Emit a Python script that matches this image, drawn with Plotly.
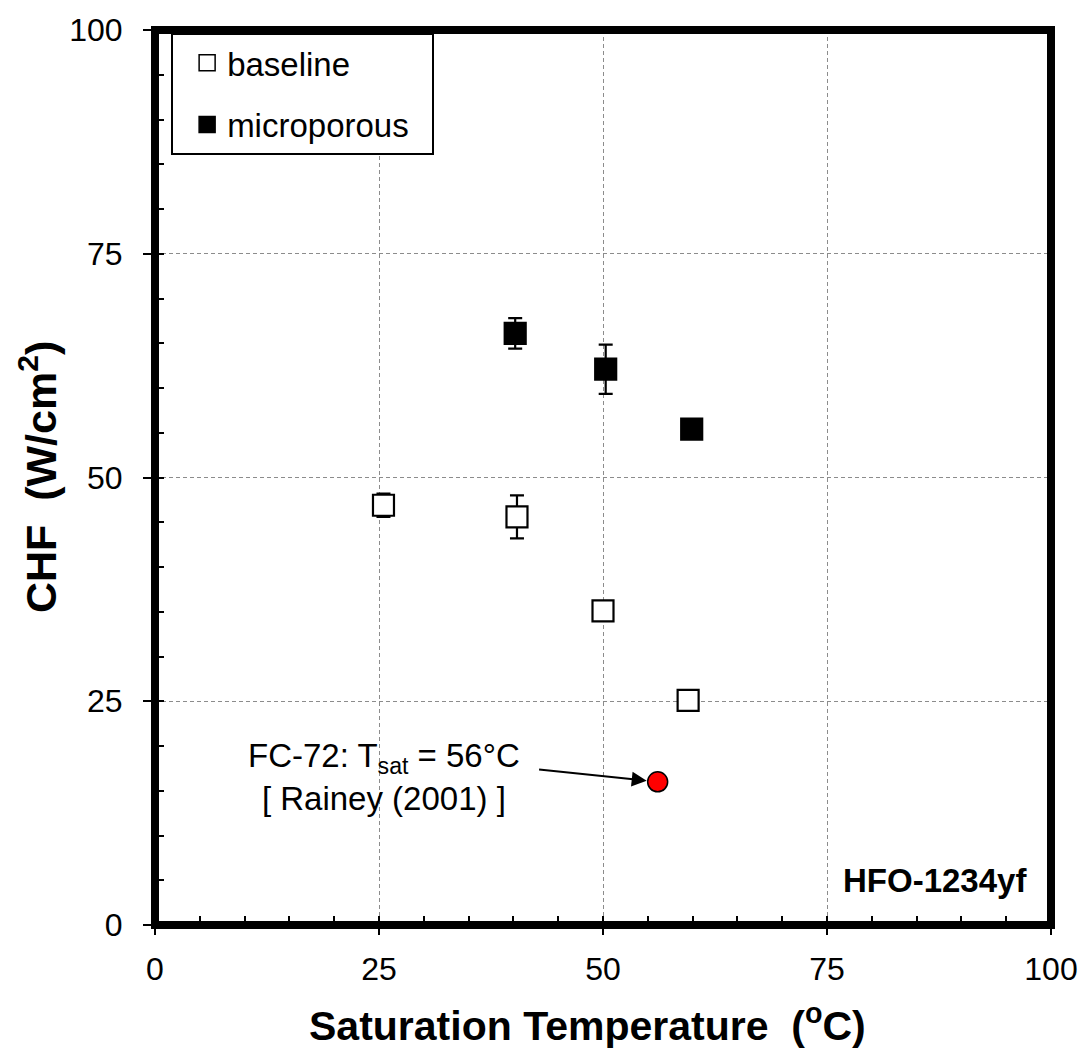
import plotly.graph_objects as go

# ---- data ----
baseline_T = [25.5, 40.4, 50.0, 59.5]
baseline_chf = [46.9, 45.6, 35.1, 25.1]
baseline_err = [1.3, 2.4, 0.0, 0.0]

micro_T = [40.2, 50.3, 59.9]
micro_chf = [66.1, 62.1, 55.4]
micro_err = [1.7, 2.75, 0.0]

fc72_T = [56.1]
fc72_chf = [16.0]

x_ticks = [0, 25, 50, 75, 100]
y_ticks = [0, 25, 50, 75, 100]

FONT = "Liberation Sans, Arial, sans-serif"

fig = go.Figure()

fig.add_trace(go.Scatter(
    x=baseline_T, y=baseline_chf, mode="markers", name="baseline",
    showlegend=False,
    marker=dict(symbol="square", size=21, color="white",
                line=dict(color="black", width=2.2)),
    error_y=dict(type="data", array=baseline_err, color="black", thickness=2.2, width=7),
))
fig.add_trace(go.Scatter(
    x=micro_T, y=micro_chf, mode="markers", name="microporous",
    showlegend=False,
    marker=dict(symbol="square", size=21, color="black",
                line=dict(color="black", width=2.2)),
    error_y=dict(type="data", array=micro_err, color="black", thickness=2.2, width=7),
))
fig.add_trace(go.Scatter(
    x=fc72_T, y=fc72_chf, mode="markers", name="FC-72",
    showlegend=False,
    marker=dict(symbol="circle", size=20, color="#ff0000",
                line=dict(color="black", width=1.5)),
))

# legend-only entries
fig.add_trace(go.Scatter(
    x=[None], y=[None], mode="markers", name="baseline", legendgroup="a",
    marker=dict(symbol="square", size=16, color="white", line=dict(color="black", width=1.5)),
))
fig.add_trace(go.Scatter(
    x=[None], y=[None], mode="markers", name="microporous\u00a0\u00a0", legendgroup="b",
    marker=dict(symbol="square", size=16, color="black", line=dict(color="black", width=1.5)),
))

grid = dict(showgrid=True, gridcolor="#8c8c8c", gridwidth=1.3, griddash="4px,3px")

fig.update_xaxes(
    range=[0, 100], tickvals=x_ticks, ticktext=[str(v) for v in x_ticks],
    ticks="outside", ticklen=9, tickwidth=1.5, tickcolor="black",
    ticklabelstandoff=7,
    tickfont=dict(family=FONT, size=32, color="black"),
    showline=False, zeroline=False,
    minor=dict(dtick=5, ticks="inside", ticklen=9, tickwidth=1.5, tickcolor="black", showgrid=False),
    **grid,
)
fig.update_yaxes(
    range=[0, 100], tickvals=y_ticks, ticktext=[str(v) for v in y_ticks],
    ticks="outside", ticklen=11, tickwidth=1.5, tickcolor="black",
    ticklabelstandoff=14,
    tickfont=dict(family=FONT, size=32, color="black"),
    showline=False, zeroline=False,
    minor=dict(dtick=5, ticks="inside", ticklen=9, tickwidth=1.5, tickcolor="black", showgrid=False),
    **grid,
)

# plot frame
fig.add_shape(type="rect", xref="paper", yref="paper", x0=0, y0=0, x1=1, y1=1,
              line=dict(color="black", width=8), layer="above")

# axis titles
fig.add_annotation(text="<b>Saturation Temperature  (<sup>o</sup>C)</b>",
                   xref="paper", yref="paper", x=0.483, y=-0.11,
                   xanchor="center", yanchor="middle", showarrow=False,
                   font=dict(family=FONT, size=41, color="black"))
fig.add_annotation(text="<b>CHF  (W/cm<sup>2</sup>)</b>",
                   xref="paper", yref="paper", x=-0.131, y=0.5,
                   xanchor="center", yanchor="middle", showarrow=False, textangle=-90,
                   font=dict(family=FONT, size=43, color="black"))

# labels
fig.add_annotation(text="<b>HFO-1234yf</b>", xref="paper", yref="paper",
                   x=0.975, y=0.05, xanchor="right", yanchor="middle", showarrow=False,
                   font=dict(family=FONT, size=33, color="black"))
fig.add_annotation(text="FC-72: T<sub>sat</sub> = 56°C<br>[ Rainey (2001) ]",
                   x=25.6, y=16.5, xanchor="center", yanchor="middle", showarrow=False,
                   align="center", font=dict(family=FONT, size=33, color="black"))
fig.add_annotation(text="", x=fc72_T[0], y=fc72_chf[0], ax=42.7, ay=17.4,
                   axref="x", ayref="y", showarrow=True, arrowhead=2, arrowsize=1.5,
                   arrowwidth=2, arrowcolor="black", standoff=11)

fig.update_layout(
    width=1090, height=1050,
    margin=dict(l=155, r=33, t=21, b=125),
    plot_bgcolor="white", paper_bgcolor="white",
    font=dict(family=FONT, color="black"),
    legend=dict(x=0.018, y=0.997, xanchor="left", yanchor="top",
                bgcolor="white", bordercolor="black", borderwidth=2,
                font=dict(family=FONT, size=33, color="black"),
                tracegroupgap=16, indentation=14, traceorder="grouped"),
)

fig.write_html("out.html")
